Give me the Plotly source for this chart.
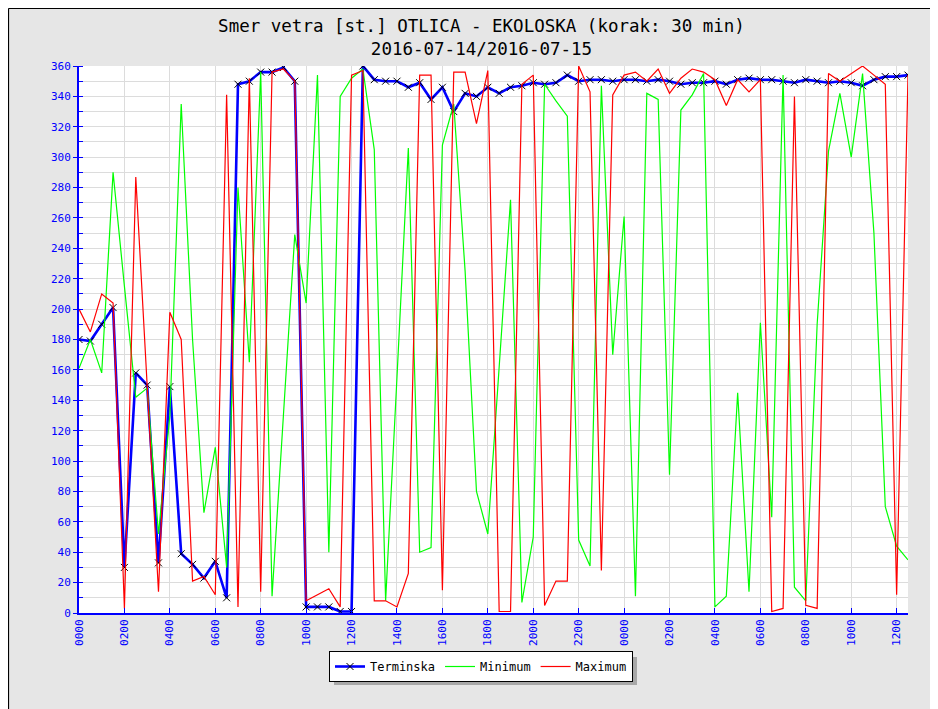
import pandas as pd
import plotly.graph_objects as go

# time steps (30 min)
times = pd.date_range("2016-07-14 00:00", "2016-07-15 12:30", freq="30min")

terminska = [180, 179, 190, 201, 30, 158, 150, 33, 149, 39,
             32, 23, 34, 10, 348, 350, 356, 356, 359, 350,
             4, 4, 4, 1, 1, 360, 351, 350, 350, 346,
             349, 338, 346, 330, 342, 340, 346, 342, 346, 347,
             349, 348, 349, 354, 350, 351, 351, 350, 351, 351,
             350, 351, 350, 348, 349, 349, 350, 348, 351, 352,
             351, 351, 350, 349, 351, 350, 349, 350, 349, 347,
             351, 353, 353, 354]

minimum = [161, 180, 158, 290, 215, 142, 148, 52, 130, 335,
           180, 66, 109, 30, 280, 165, 356, 11, 130, 249,
           204, 354, 40, 340, 352, 358, 305, 8, 155, 306,
           40, 43, 308, 335, 225, 80, 52, 165, 272, 7,
           50, 348, 337, 327, 48, 31, 347, 170, 261, 11,
           342, 338, 91, 331, 341, 355, 4, 11, 145, 14,
           191, 63, 354, 17, 8, 190, 304, 342, 300, 355,
           250, 70, 44, 35]

maximum = [200, 185, 210, 204, 3, 287, 150, 14, 198, 180,
           21, 24, 12, 341, 4, 352, 14, 356, 358, 350,
           8, 12, 16, 4, 354, 357, 8, 8, 4, 26,
           354, 354, 15, 356, 356, 322, 357, 1, 1, 348,
           354, 5, 21, 21, 360, 343, 28, 341, 354, 356,
           350, 358, 342, 352, 358, 356, 351, 334, 351, 343,
           351, 1, 3, 340, 5, 3, 355, 350, 355, 360,
           354, 348, 12, 354]

series_names = ["Terminska", "Minimum", "Maximum"]
title_text = "Smer vetra [st.] OTLICA - EKOLOSKA (korak: 30 min)<br>2016-07-14/2016-07-15"

MONO = "DejaVu Sans Mono"
BLUE = "#0000ff"
GRID = "#dcdcdc"

W, H = 930, 701
L, R, T, B = 71, 30, 58, 96
pw, ph = W - L - R, H - T - B


def px_x(x):
    return (x - L) / pw


def px_y(y):
    return (H - B - y) / ph


fig = go.Figure()
fig.add_trace(go.Scatter(
    x=times, y=terminska, name=series_names[0], mode="lines+markers",
    line=dict(color=BLUE, width=2.6),
    marker=dict(symbol="x-thin", size=7, color="#000000",
                line=dict(color="#000000", width=1)),
))
fig.add_trace(go.Scatter(
    x=times, y=minimum, name=series_names[1], mode="lines",
    line=dict(color="#00ff00", width=1.2),
))
fig.add_trace(go.Scatter(
    x=times, y=maximum, name=series_names[2], mode="lines",
    line=dict(color="#ff0000", width=1.2),
))

shapes = [
    # panel border (top and left)
    dict(type="line", xref="paper", yref="paper",
         x0=px_x(0.5), x1=px_x(W + 5), y0=px_y(0.5), y1=px_y(0.5),
         line=dict(color="#000000", width=1.2)),
    dict(type="line", xref="paper", yref="paper",
         x0=px_x(0.5), x1=px_x(0.5), y0=px_y(0.5), y1=px_y(H + 5),
         line=dict(color="#000000", width=1.2)),
    # legend drop shadow
    dict(type="rect", xref="paper", yref="paper",
         x0=px_x(326), x1=px_x(629), y0=px_y(677), y1=px_y(649),
         fillcolor="#a8a8a8", line=dict(width=0), layer="above"),
]

fig.update_layout(
    width=W, height=H, autosize=False,
    margin=dict(l=L, r=R, t=T, b=B, pad=0),
    paper_bgcolor="#e6e6e6",
    plot_bgcolor="#ffffff",
    title=dict(text=title_text, x=473.5 / W, xanchor="center",
               y=1 - 24 / H, yanchor="middle", yref="container",
               font=dict(family=MONO, size=17.5, color="#000000")),
    showlegend=True,
    legend=dict(orientation="h", x=px_x(473), xanchor="center",
                y=px_y(643), yanchor="top",
                bgcolor="#ffffff", bordercolor="#000000", borderwidth=1,
                font=dict(family=MONO, size=12, color="#000000")),
    shapes=shapes,
    xaxis=dict(
        type="date",
        range=[times[0], times[-1]],
        tickformat="%H%M", dtick=2 * 3600 * 1000, tick0=times[0],
        tickangle=-90,
        ticks="inside", ticklen=5, tickwidth=1, tickcolor=BLUE,
        showline=True, linecolor=BLUE, linewidth=2,
        showgrid=True, gridcolor=GRID, gridwidth=1,
        tickfont=dict(family=MONO, size=11, color=BLUE),
        zeroline=False,
    ),
    yaxis=dict(
        range=[0, 360], dtick=20, tick0=0,
        ticks="outside", ticklen=4, tickwidth=1, tickcolor=BLUE,
        showline=True, linecolor=BLUE, linewidth=2,
        showgrid=True, gridcolor=GRID, gridwidth=1,
        tickfont=dict(family=MONO, size=11, color=BLUE),
        zeroline=False,
        minor=dict(dtick=10, ticks="inside", ticklen=4, tickcolor=BLUE,
                   showgrid=True, gridcolor=GRID, gridwidth=1),
    ),
)

fig.write_html("out.html")
